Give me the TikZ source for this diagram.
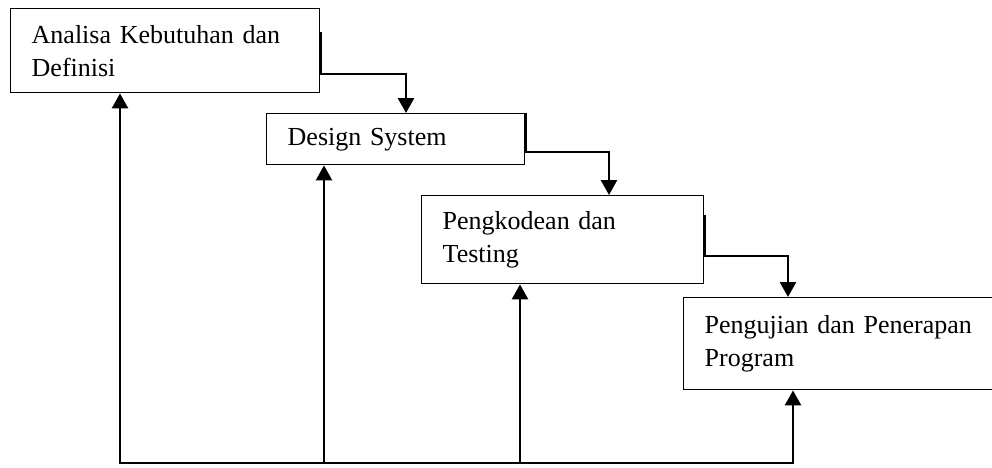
\documentclass[tikz,border=0pt]{standalone}
\usepackage{fontspec}
\setmainfont{Liberation Serif}
\usetikzlibrary{arrows.meta}

\begin{document}
\begin{tikzpicture}
  [x=0.5pt,y=-0.5pt,
   every node/.style={draw, line width=0.7pt, anchor=north west, inner xsep=10.5pt, inner ysep=0pt,
     align=left, font=\fontsize{13}{16.5}\selectfont},
   flow/.style={line width=1.3pt, -{Triangle[length=7.5pt,width=8pt]}},
   back/.style={line width=1.3pt, line cap=rect}]
  \useasboundingbox (0,0) rectangle (992,467);

  \node[minimum width=154.5pt, minimum height=42pt, text width=133.5pt] (n1) at (10,8)
    {Analisa Kebutuhan dan\\Definisi};
  \node[minimum width=129pt, minimum height=25.5pt, text width=108pt] (n2) at (266,113)
    {Design System};
  \node[minimum width=141pt, minimum height=44pt, text width=120pt] (n3) at (421,195)
    {Pengkodean dan\\Testing};
  \node[minimum width=158.5pt, minimum height=46pt, text width=137.5pt] (n4) at (683,297)
    {Pengujian dan Penerapan\\Program};

  \coordinate (b1) at (406,74);
  \coordinate (b2) at (609,152);
  \coordinate (b3) at (788,256);

  \draw[flow] ([yshift=-12pt]n1.north east) |- (b1) -- (b1 |- n2.north);
  \draw[flow] (n2.north east) |- (b2) -- (b2 |- n3.north);
  \draw[flow] ([yshift=-10pt]n3.north east) |- (b3) -- (b3 |- n4.north);

  \coordinate (f1) at (120,463);
  \coordinate (f2) at (324,463);
  \coordinate (f3) at (520,463);
  \coordinate (f4) at (793,463);

  \draw[back] (f1) -- (f4);
  \foreach \from/\to in {f1/n1,f2/n2,f3/n3,f4/n4}
    \draw[flow] (\from) -- (\from |- \to.south);

\end{tikzpicture}
\end{document}
